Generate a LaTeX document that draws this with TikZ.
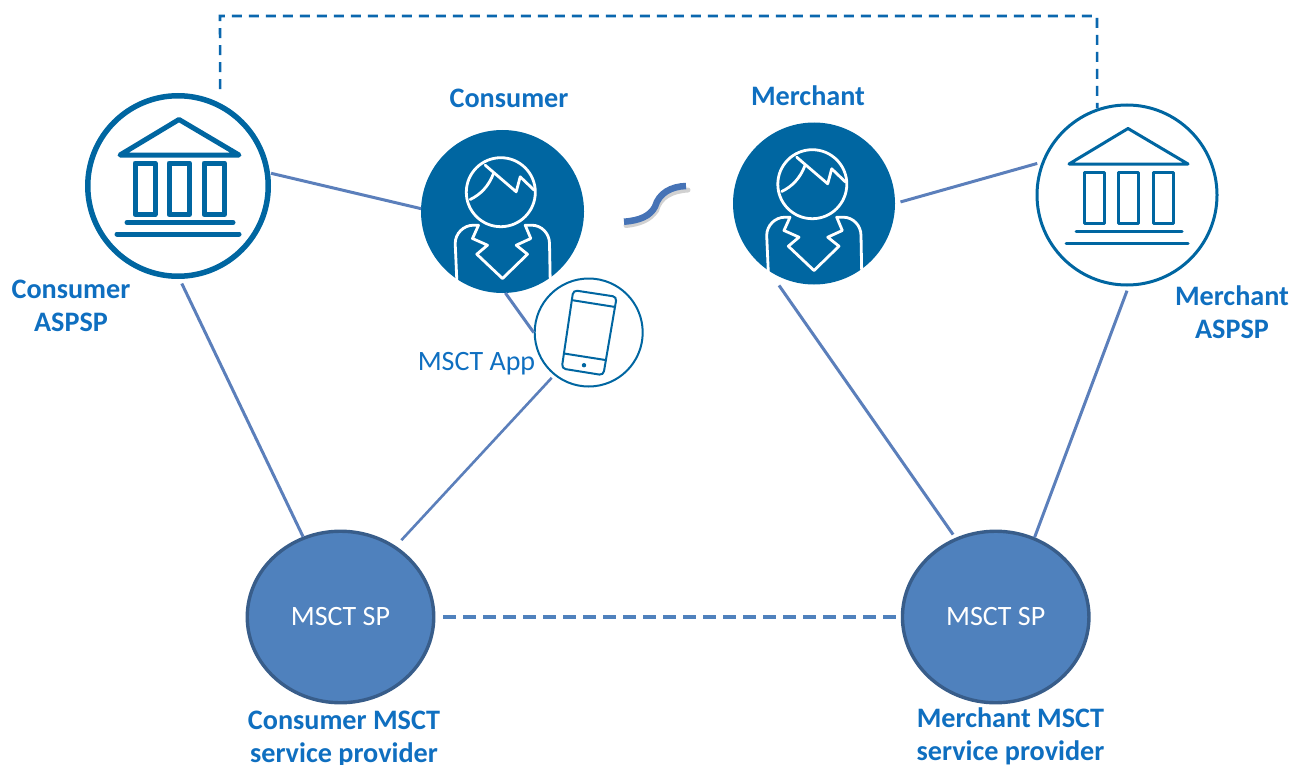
\documentclass[tikz,border=0pt]{standalone}
\usepackage{fontspec}
\setmainfont{Carlito}
\definecolor{icon}{HTML}{0066A1}
\definecolor{link}{HTML}{5B7FBB}
\definecolor{lab}{HTML}{0F6FC0}
\definecolor{spfill}{HTML}{4F81BD}
\definecolor{spdraw}{HTML}{385D8A}
\definecolor{topdash}{HTML}{0A67AE}
\definecolor{squig}{HTML}{4673B6}
\tikzset{
  link/.style={draw=link,line width=3pt},
  persondisc/.style={circle,fill=icon,minimum size=#1,inner sep=0,outer sep=0},
  bankring/.style={circle,draw=icon,fill=white,minimum size=#1,inner sep=0},
  spnode/.style={ellipse,draw=spdraw,line width=3.4pt,fill=spfill,text=white,font=\fontsize{28}{28}\selectfont,inner sep=0},
  boldlabel/.style={text=lab,font=\fontsize{28.2}{33}\bfseries\selectfont,align=center,inner sep=0},
  whiteicon/.style={draw=white,line width=2.8pt,line join=round,line cap=round},
}
\usetikzlibrary{shapes.geometric}
\newcommand\personicon[2]{%
\begin{scope}[shift={(#1,#2)}]
 \draw[whiteicon] (-1.7,-19.3) circle (34.5);
 \draw[whiteicon] (-17.3,-46.3) -- (13.7,-19.7) -- (17.7,-34.7) -- (31.7,-21.3);
 \draw[whiteicon] (-9,-38) .. controls (-14,-25) and (-22,-17) .. (-32.3,-12);
 \draw[whiteicon] (-45.7,68.7) -- (-47.3,32) .. controls (-47.3,22) and (-39,13.7) .. (-29,13.7) -- (-24,13.7) -- (-30,27) -- (-15,33.7) -- (-25.7,42.7) -- (0,67) -- (25,42.7) -- (13.7,33.7) -- (28.3,27) -- (22.7,13.7) -- (29.3,13.7) .. controls (39,13.7) and (47,22) .. (47,32) -- (47.7,68.7);
\end{scope}}
\newcommand\bankicon[3]{%
\begin{scope}[shift={(#1,#2)},draw=icon,line width=#3,line join=round,line cap=round]
 \draw (1,-66.5) -- (-58,-31) -- (61,-31) -- cycle;
 \draw (-43,-23) rectangle (-23,28.5);
 \draw (-9,-23) rectangle (11.5,28.5);
 \draw (26,-23) rectangle (46.5,28.5);
 \draw (-51,36.5) -- (55,36.5);
 \draw (-61,48) -- (61,48);
\end{scope}}
\begin{document}
\begin{tikzpicture}[x=1pt,y=-1pt]
\useasboundingbox (0,0) rectangle (1292,765);
\clip (0,0) rectangle (1292,765);
% coordinates
\coordinate (tl) at (220,16);
\coordinate (tr) at (1097,16);
\coordinate (sqa) at (624,221.7);
\coordinate (sqb) at (686,186);
% nodes
\node[bankring=180.5pt,line width=5.5pt] (bankC) at (178,186) {};
\node[bankring=180pt,line width=3pt] (bankM) at (1127,195) {};
\node[persondisc=163pt] (personC) at (502.5,211.5) {};
\node[persondisc=162pt] (personM) at (814,203.5) {};
\node[circle,draw=icon,fill=white,line width=2pt,minimum size=108pt,inner sep=0] (phone) at (588.7,332.5) {};
\node[spnode,minimum width=186.5pt,minimum height=171.5pt] (spC) at (340.5,617) {\raisebox{-1pt}{MSCT SP}};
\node[spnode,minimum width=186.5pt,minimum height=171.5pt] (spM) at (995.7,617) {\raisebox{-1pt}{MSCT SP}};
% icons
\bankicon{178}{186}{5pt}
\bankicon{1127}{195}{3pt}
\personicon{502.5}{211.5}
\personicon{814}{203.5}
\begin{scope}[shift={(589,332.5)},draw=icon,line width=2pt]
 \draw[rounded corners=4pt] (-15.7,-42.3) -- (27.7,-35.7) -- (14.3,42.7) -- (-27.3,36) -- cycle;
 \draw (-16.7,-32.3) -- (25,-25.7);
 \draw (-25,21) -- (17.7,27.7);
 \fill[icon] (-5,32.7) circle (2.2);
\end{scope}
% connectors
\draw[link,shorten <=1pt] (bankC.8) -- (personC.178);
\draw[link,shorten <=5pt] (bankC.-89.5) -- (spC.115.7);
\draw[link] (personC.-88) -- (phone.180);
\draw[link,line width=2.6pt,shorten <=3.5pt,shorten >=8pt] (phone.231.2) -- (spC.52.7);
\draw[link,shorten <=5.7pt,shorten >=4.5pt] (personM.0) -- (bankM.159.3);
\draw[link,shorten <=18pt,shorten >=4pt] (personM.236.3) -- (spM.117);
\draw[link,shorten <=4.5pt] (bankM.-89) -- (spM.64.9);
\draw[draw=topdash,line width=2.6pt,dash pattern=on 10pt off 7pt,shorten <=14pt] (bankC.63.2) -- (tl) -- (tr) -- (bankM.109.1);
\draw[draw=spfill,line width=4.4pt,dash pattern=on 13pt off 7pt,shorten <=8pt] (spC.east) -- (spM.west);
% squiggle
\draw[black!40,line width=5pt,opacity=.45,line cap=round] (626,225.5) .. controls (640,224) and (650,220) .. (656.5,210.5) .. controls (660,197) and (672,191) .. (688,190);
\draw[draw=squig,line width=6.5pt] (sqa) .. controls (640,220.5) and (650,216) .. (655,206.7) .. controls (659,193) and (671,186.5) .. (sqb);
% labels
\node[boldlabel] (lc) at (509,98) {Consumer};
\node[boldlabel] (lm) at (808,95.5) {Merchant};
\node[boldlabel] (la) at (71,306) {Consumer\\ASPSP};
\node[boldlabel] (lb) at (1232,312) {Merchant\\ASPSP};
\node[boldlabel] (lsc) at (344,739) {Consumer MSCT\\service provider};
\node[boldlabel] (lsm) at (1010.5,736.5) {Merchant MSCT\\service provider};
\node[text=lab,font=\fontsize{28}{28}\selectfont,inner sep=0] (lapp) at (476.5,364) {MSCT App};
\end{tikzpicture}
\end{document}
